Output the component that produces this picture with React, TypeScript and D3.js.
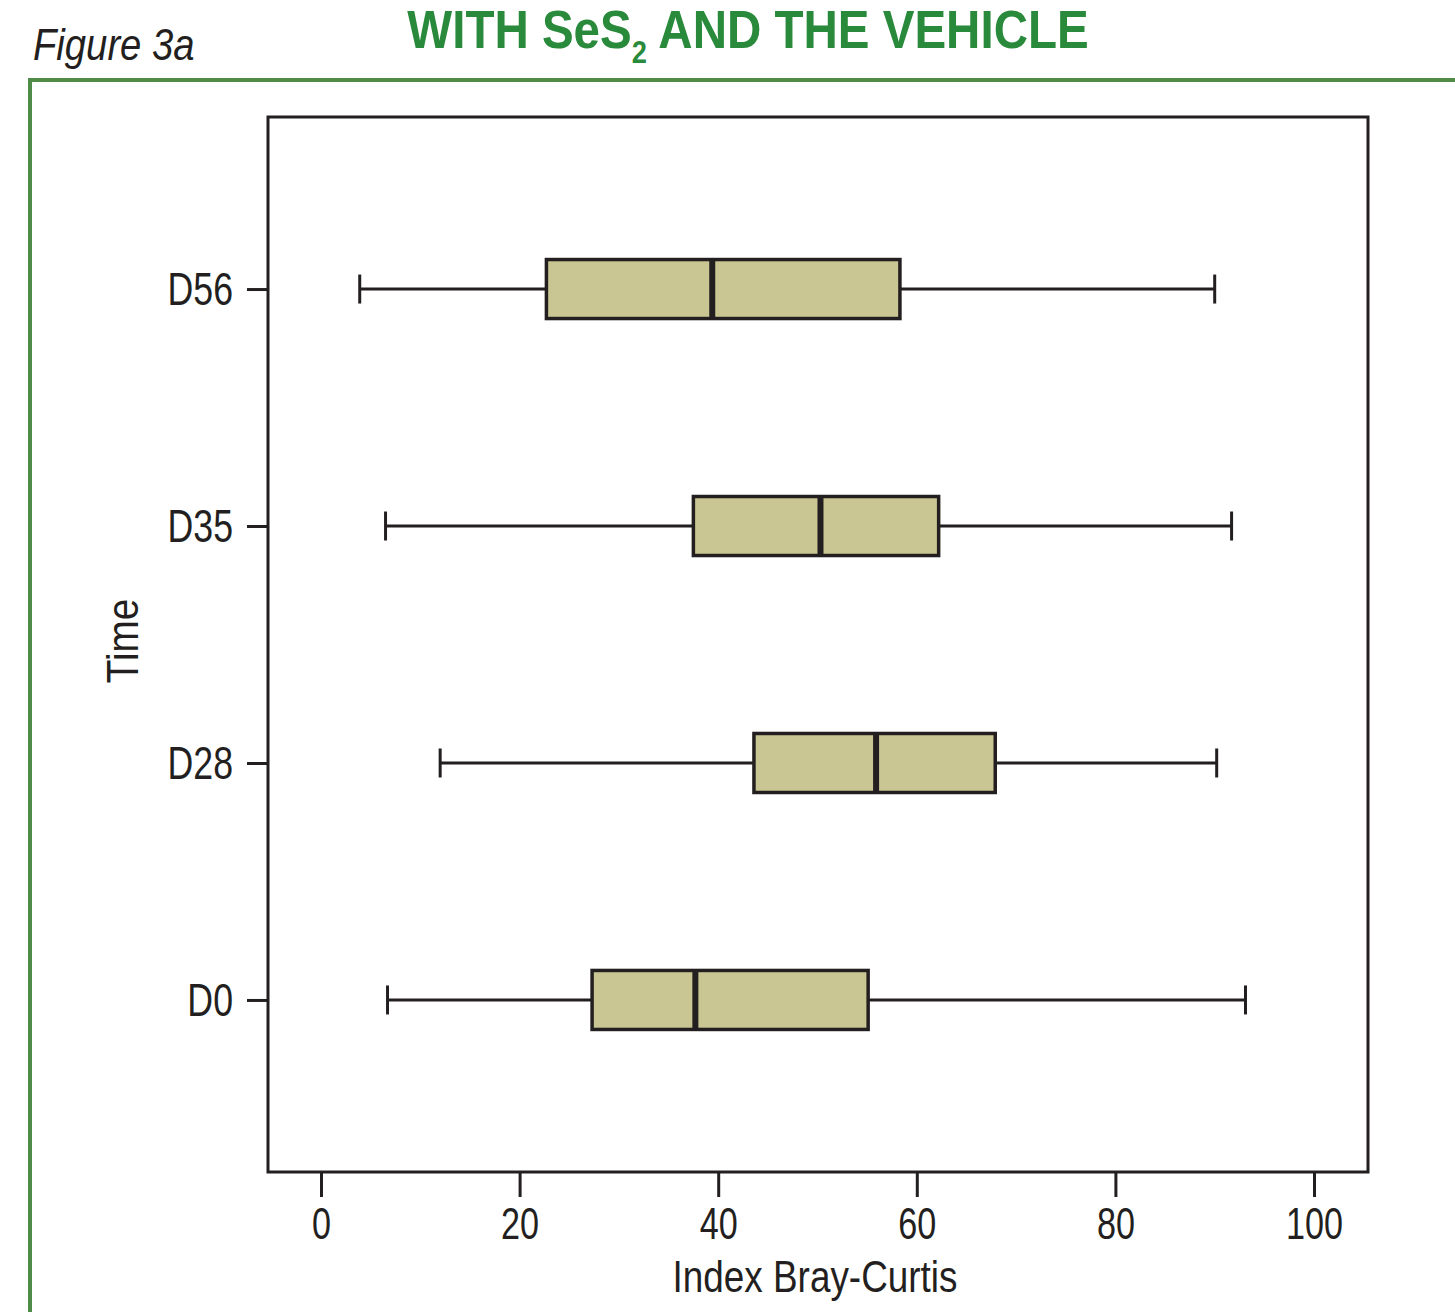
import React, { useEffect, useRef } from 'react';
import * as d3 from 'd3';

// values (Index Bray-Curtis)
const times = ['D0', 'D28', 'D35', 'D56'];
const mins = [6.7, 12.0, 6.5, 3.9];
const q1s = [27.3, 43.6, 37.5, 22.7];
const medians = [37.7, 55.9, 50.3, 39.4];
const q3s = [55.1, 67.9, 62.2, 58.3];
const maxs = [93.1, 90.2, 91.7, 90.0];
const xTicks = [0, 20, 40, 60, 80, 100];

const INK = '#231f20';
const FONT = '"Liberation Sans", Arial, sans-serif';

const App = () => {
  const svgRef = useRef<SVGSVGElement>(null);

  useEffect(() => {
    const svg = d3.select(svgRef.current);
    svg.selectAll('*').remove();

    const W = 1455;
    const H = 1312;
    const frame = { left: 268, right: 1368, top: 117, bottom: 1172 };

    svg.attr('width', W).attr('height', H);

    // green page border
    svg.append('line')
      .attr('x1', 28).attr('x2', W).attr('y1', 80).attr('y2', 80)
      .attr('stroke', '#4f8c47').attr('stroke-width', 4);
    svg.append('line')
      .attr('x1', 30).attr('x2', 30).attr('y1', 78).attr('y2', H)
      .attr('stroke', '#4f8c47').attr('stroke-width', 4);

    // figure label
    svg.append('text')
      .attr('transform', 'translate(33,60) scale(0.85,1)')
      .attr('font-family', FONT).attr('font-size', 45).attr('font-style', 'italic')
      .attr('fill', INK)
      .text('Figure 3a');

    // title
    const title = svg.append('text')
      .attr('transform', 'translate(748,48) scale(0.88,1)')
      .attr('text-anchor', 'middle')
      .attr('font-family', FONT).attr('font-size', 54).attr('font-weight', 'bold')
      .attr('fill', '#2a8a3b');
    title.append('tspan').text('WITH SeS');
    title.append('tspan').attr('font-size', 31).attr('dy', 15).text('2');
    title.append('tspan').attr('dy', -15).text(' AND THE VEHICLE');

    const x = d3.scaleLinear().domain([0, 100]).range([321, 1314]);
    const y = d3.scalePoint<string>()
      .domain(['D56', 'D35', 'D28', 'D0'])
      .range([frame.top, frame.bottom])
      .padding(0.726);

    // x axis
    const xAxis = svg.append('g')
      .attr('transform', `translate(0,${frame.bottom})`)
      .call(d3.axisBottom(x).tickValues(xTicks).tickSize(25).tickPadding(10));
    xAxis.select('.domain').remove();
    xAxis.selectAll('line').attr('stroke', INK).attr('stroke-width', 3);
    xAxis.selectAll('text')
      .attr('font-family', FONT).attr('font-size', 45).attr('fill', INK)
      .attr('transform', 'scale(0.76,1)');

    // y axis
    const yAxis = svg.append('g')
      .attr('transform', `translate(${frame.left},0)`)
      .call(d3.axisLeft(y).tickSize(21).tickPadding(14));
    yAxis.select('.domain').remove();
    yAxis.selectAll('line').attr('stroke', INK).attr('stroke-width', 3);
    yAxis.selectAll('text')
      .attr('font-family', FONT).attr('font-size', 47).attr('fill', INK)
      .attr('x', -35 / 0.76)
      .attr('transform', 'scale(0.76,1)');

    // frame
    svg.append('rect')
      .attr('x', frame.left).attr('y', frame.top)
      .attr('width', frame.right - frame.left)
      .attr('height', frame.bottom - frame.top)
      .attr('fill', 'none').attr('stroke', INK).attr('stroke-width', 3);

    // axis titles
    svg.append('text')
      .attr('transform', `translate(${(frame.left + frame.right) / 2 - 3},1292) scale(0.82,1)`)
      .attr('text-anchor', 'middle')
      .attr('font-family', FONT).attr('font-size', 45).attr('fill', INK)
      .text('Index Bray-Curtis');
    svg.append('text')
      .attr('transform', 'translate(138,641) rotate(-90) scale(0.86,1)')
      .attr('text-anchor', 'middle')
      .attr('font-family', FONT).attr('font-size', 45).attr('fill', INK)
      .text('Time');

    // boxes
    const boxH = 59;
    const capH = 29;
    const rows = times.map((t, i) => ({
      t, min: mins[i], q1: q1s[i], med: medians[i], q3: q3s[i], max: maxs[i],
    }));

    const g = svg.append('g');
    const box = g.selectAll('g.box').data(rows).enter().append('g')
      .attr('class', 'box')
      .attr('transform', d => `translate(0,${y(d.t)})`);

    box.append('line')
      .attr('x1', d => x(d.min)).attr('x2', d => x(d.max))
      .attr('stroke', INK).attr('stroke-width', 3);
    box.append('line')
      .attr('x1', d => x(d.min)).attr('x2', d => x(d.min))
      .attr('y1', -capH / 2).attr('y2', capH / 2)
      .attr('stroke', INK).attr('stroke-width', 3);
    box.append('line')
      .attr('x1', d => x(d.max)).attr('x2', d => x(d.max))
      .attr('y1', -capH / 2).attr('y2', capH / 2)
      .attr('stroke', INK).attr('stroke-width', 3);
    box.append('rect')
      .attr('x', d => x(d.q1)).attr('y', -boxH / 2)
      .attr('width', d => x(d.q3) - x(d.q1)).attr('height', boxH)
      .attr('fill', '#c9c693').attr('stroke', INK).attr('stroke-width', 3.5);
    box.append('line')
      .attr('x1', d => x(d.med)).attr('x2', d => x(d.med))
      .attr('y1', -boxH / 2).attr('y2', boxH / 2)
      .attr('stroke', INK).attr('stroke-width', 6);
  }, []);

  return (
    <svg
      ref={svgRef}
      style={{ position: 'absolute', left: 0, top: 0, display: 'block', background: '#fff' }}
      aria-label="Box plot of Bray-Curtis index by time"
    />
  );
};

export default App;
